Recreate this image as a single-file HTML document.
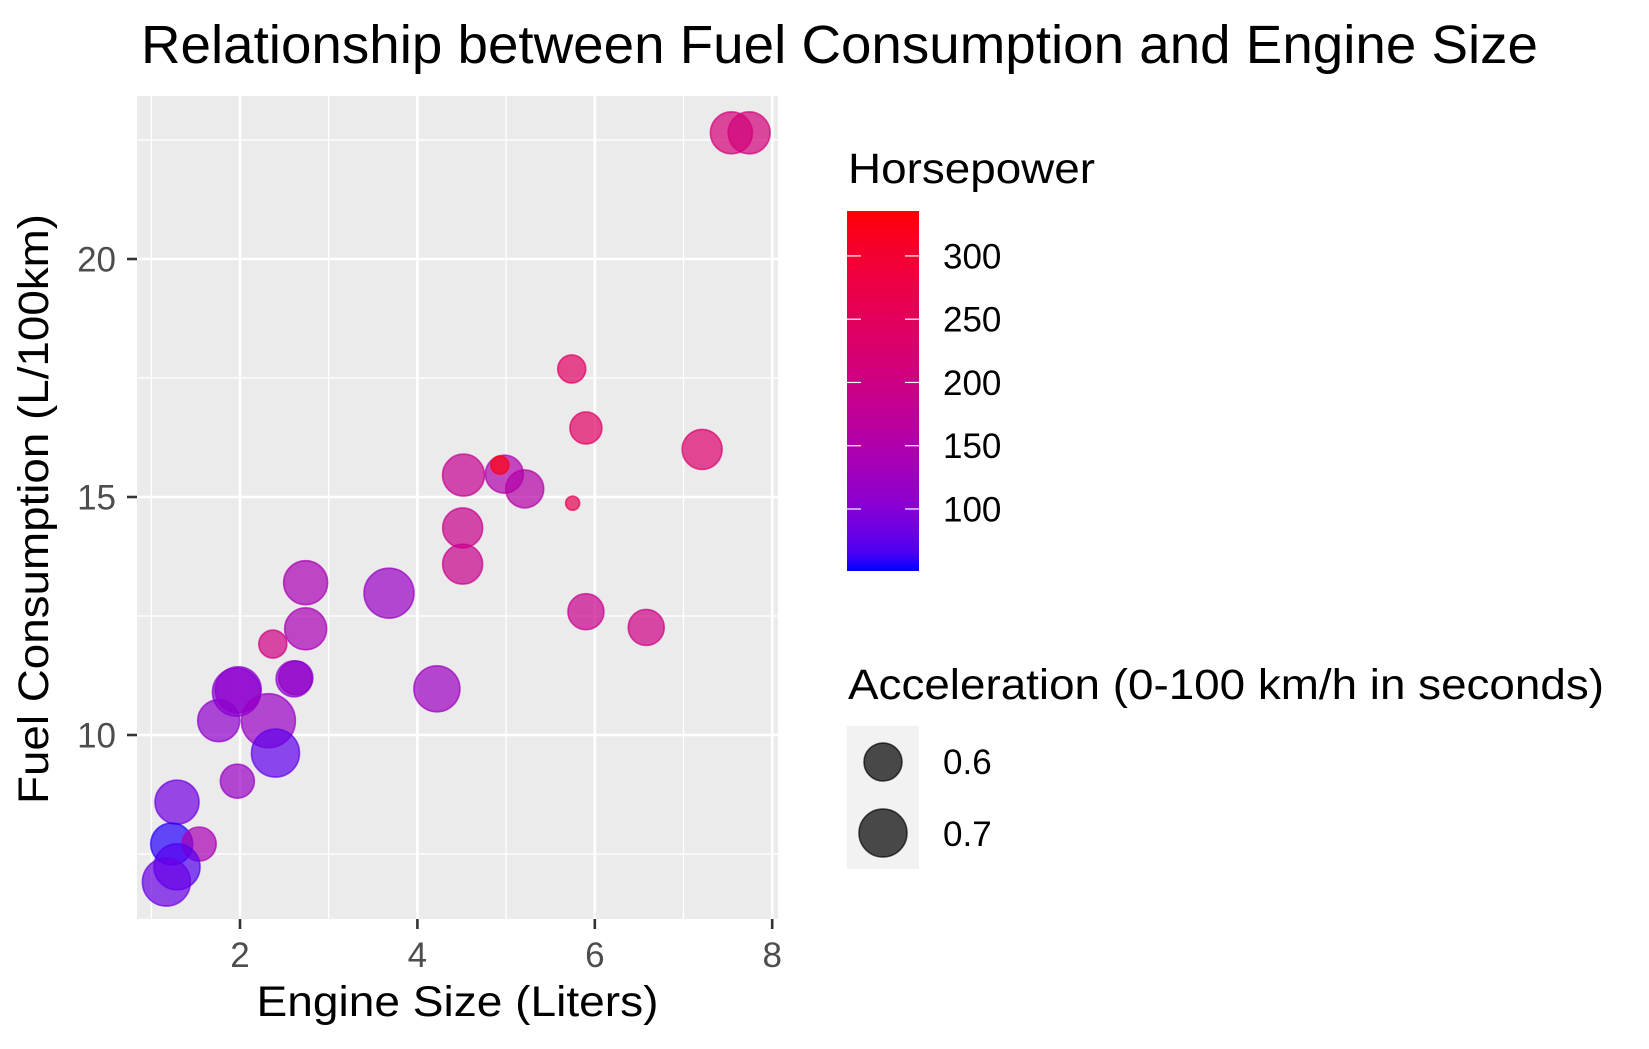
<!DOCTYPE html>
<html>
<head>
<meta charset="utf-8">
<style>
  html,body{margin:0;padding:0;background:#fff;}
  svg{display:block;}
  text{font-family:"Liberation Sans",Arial,sans-serif;}
</style>
</head>
<body>
<svg id="chart" width="1649" height="1049" viewBox="0 0 1649 1049" xmlns="http://www.w3.org/2000/svg">
  <rect x="0" y="0" width="1649" height="1049" fill="#ffffff"/>
  <text x="141" y="63" font-size="54" textLength="1397" lengthAdjust="spacingAndGlyphs" fill="#000">Relationship between Fuel Consumption and Engine Size</text>
  <rect x="137" y="96" width="641" height="823" fill="#ebebeb"/>
  <g id="grid"></g>
  <g id="points"></g>
  <g id="axes"></g>
  <text x="457.5" y="1016" font-size="43" text-anchor="middle" textLength="402" lengthAdjust="spacingAndGlyphs" fill="#000">Engine Size (Liters)</text>
  <text transform="translate(48,509) rotate(-90)" font-size="43" text-anchor="middle" textLength="590" lengthAdjust="spacingAndGlyphs" fill="#000">Fuel Consumption (L/100km)</text>

  <g>
    <text x="848" y="183" font-size="43" textLength="247" lengthAdjust="spacingAndGlyphs" fill="#000">Horsepower</text>
    <defs>
      <linearGradient id="hpgrad" x1="0" y1="1" x2="0" y2="0"></linearGradient>
    </defs>
    <rect x="847" y="211" width="72" height="360" fill="url(#hpgrad)"/>
    <g id="cbticks"></g>
  </g>

  <g>
    <text x="848" y="699" font-size="43" textLength="756" lengthAdjust="spacingAndGlyphs" fill="#000">Acceleration (0-100 km/h in seconds)</text>
    <rect x="847" y="726" width="72" height="143" fill="#f2f2f2"/>
    <circle cx="883" cy="762" r="19" fill="#000" fill-opacity="0.7" stroke="#000" stroke-opacity="0.7" stroke-width="1.5"/>
    <circle cx="883" cy="833" r="24" fill="#000" fill-opacity="0.7" stroke="#000" stroke-opacity="0.7" stroke-width="1.5"/>
    <text x="943" y="774" font-size="35" fill="#000">0.6</text>
    <text x="943" y="846" font-size="35" fill="#000">0.7</text>
  </g>
</svg>
<script>
// ---- data ----
const engineSize = [4.51,2.74,3.68,2.74,2.37,2.61,2.63,4.22,1.96,1.98,1.76,2.32,2.40,1.97,1.29,1.23,1.54,1.29,1.17,7.54,7.74,5.74,5.90,7.21,4.52,4.98,4.93,5.21,5.75,4.51,5.90,6.58];
const fuelConsumption = [13.59,13.20,12.98,12.23,11.91,11.18,11.20,10.97,10.90,10.95,10.30,10.30,9.62,9.03,8.59,7.71,7.71,7.23,6.91,22.65,22.65,17.69,16.45,16.00,15.46,15.48,15.67,15.17,14.87,14.35,12.59,12.26];
const horsepower = [190,140,120,140,200,110,112,125,105,108,110,120,75,120,85,55,140,70,80,215,210,240,240,230,185,150,330,155,260,190,190,200];
const acceleration = [0.60,0.64,0.70,0.62,0.48,0.56,0.54,0.66,0.68,0.66,0.62,0.74,0.68,0.54,0.64,0.62,0.54,0.66,0.68,0.62,0.62,0.48,0.52,0.60,0.62,0.58,0.38,0.58,0.34,0.60,0.56,0.56];
const xTicks = [2,4,6,8];
const yTicks = [10,15,20];
const hpTicks = [100,150,200,250,300];

// ---- scales ----
const X0 = 62.6, XK = 88.7;
const Y10 = 735, YK = 47.6;
const xs = v => X0 + XK * v;
const ys = v => Y10 - YK * (v - 10);
const rs = a => 20 + (a - 0.6) * 50;
const HPMIN = 51, HPMAX = 335.5;
const CB_TOP = 211, CB_BOT = 571;
const hpY = h => CB_BOT - (h - HPMIN) / (HPMAX - HPMIN) * (CB_BOT - CB_TOP);

function srgb2lin(c){c/=255;return c<=0.04045?c/12.92:Math.pow((c+0.055)/1.055,2.4);}
function lin2srgb(c){c=c<=0.0031308?12.92*c:1.055*Math.pow(c,1/2.4)-0.055;return Math.max(0,Math.min(255,Math.round(c*255)));}
function rgb2lab(r,g,b){r=srgb2lin(r);g=srgb2lin(g);b=srgb2lin(b);
  let X=(r*0.4124+g*0.3576+b*0.1805)/0.95047,Y=(r*0.2126+g*0.7152+b*0.0722),Z=(r*0.0193+g*0.1192+b*0.9505)/1.08883;
  const f=t=>t>0.008856?Math.cbrt(t):7.787*t+16/116;X=f(X);Y=f(Y);Z=f(Z);
  return [116*Y-16,500*(X-Y),200*(Y-Z)];}
function lab2rgb(L,a,b){let Y=(L+16)/116,X=a/500+Y,Z=Y-b/200;
  const fi=t=>t*t*t>0.008856?t*t*t:(t-16/116)/7.787;X=fi(X)*0.95047;Y=fi(Y);Z=fi(Z)*1.08883;
  const r=X*3.2406+Y*-1.5372+Z*-0.4986,g=X*-0.9689+Y*1.8758+Z*0.0415,bb=X*0.0557+Y*-0.2040+Z*1.0570;
  return [lin2srgb(r),lin2srgb(g),lin2srgb(bb)];}
const LB = rgb2lab(0,0,255), LR = rgb2lab(255,0,0);
function hpColor(h){let t=(h-HPMIN)/(HPMAX-HPMIN);t=Math.max(0,Math.min(1,t));
  const c=lab2rgb(LB[0]+(LR[0]-LB[0])*t,LB[1]+(LR[1]-LB[1])*t,LB[2]+(LR[2]-LB[2])*t);
  return `rgb(${c[0]},${c[1]},${c[2]})`;}

const NS = "http://www.w3.org/2000/svg";
function mk(tag, attrs, parent){const e=document.createElementNS(NS,tag);for(const k in attrs)e.setAttribute(k,attrs[k]);parent.appendChild(e);return e;}

const grid = document.getElementById('grid');
const PL=137, PR=778, PT=96, PB=919;
for (let v=1; v<=8; v+=2){
  const g = mk('line',{x1:xs(v),x2:xs(v),y1:PT,y2:PB,stroke:'#fff','stroke-width':1.3},grid);
  
  
}
for (let v=7.5; v<=22.5; v+=5){
  const g = mk('line',{x1:PL,x2:PR,y1:ys(v),y2:ys(v),stroke:'#fff','stroke-width':1.3},grid);
  
  
}
xTicks.forEach(v=>{
  const g = mk('line',{x1:xs(v),x2:xs(v),y1:PT,y2:PB,stroke:'#fff','stroke-width':2.6},grid);
  
  
});
yTicks.forEach(v=>{
  const g = mk('line',{x1:PL,x2:PR,y1:ys(v),y2:ys(v),stroke:'#fff','stroke-width':2.6},grid);
  
  
});

const axes = document.getElementById('axes');
xTicks.forEach(v=>{
  const t = mk('line',{x1:xs(v),x2:xs(v),y1:PB,y2:PB+10,stroke:'#333','stroke-width':2.6},axes);
  
  
  const l = mk('text',{x:xs(v),y:967,'font-size':35,'text-anchor':'middle',fill:'#4d4d4d'},axes);
  l.textContent = v;
  
  
});
yTicks.forEach(v=>{
  const t = mk('line',{x1:PL-10,x2:PL,y1:ys(v),y2:ys(v),stroke:'#333','stroke-width':2.6},axes);
  
  
  const l = mk('text',{x:116,y:ys(v)+12.5,'font-size':35,'text-anchor':'end',fill:'#4d4d4d'},axes);
  l.textContent = v;
  
  
});

const pts = document.getElementById('points');
engineSize.forEach((e,i)=>{
  const col = hpColor(horsepower[i]);
  const c = mk('circle',{cx:xs(e),cy:ys(fuelConsumption[i]),r:Math.max(3,rs(acceleration[i])),fill:col,'fill-opacity':0.7,stroke:col,'stroke-opacity':0.7,'stroke-width':1.6},pts);
  
  
});

const grad = document.getElementById('hpgrad');
for (let k=0;k<=20;k++){
  const h = HPMIN + (HPMAX-HPMIN)*k/20;
  mk('stop',{offset:(k/20),'stop-color':hpColor(h)},grad);
}
const cbt = document.getElementById('cbticks');
hpTicks.forEach(h=>{
  const y = hpY(h);
  const a = mk('line',{x1:847,x2:861,y1:y,y2:y,stroke:'#fff','stroke-width':1.2},cbt);
  
  
  const b = mk('line',{x1:905,x2:919,y1:y,y2:y,stroke:'#fff','stroke-width':1.2},cbt);
  
  
  const l = mk('text',{x:943,y:y+12.5,'font-size':35,fill:'#000'},cbt);
  l.textContent = h;
  
  
});
</script>
</body>
</html>
